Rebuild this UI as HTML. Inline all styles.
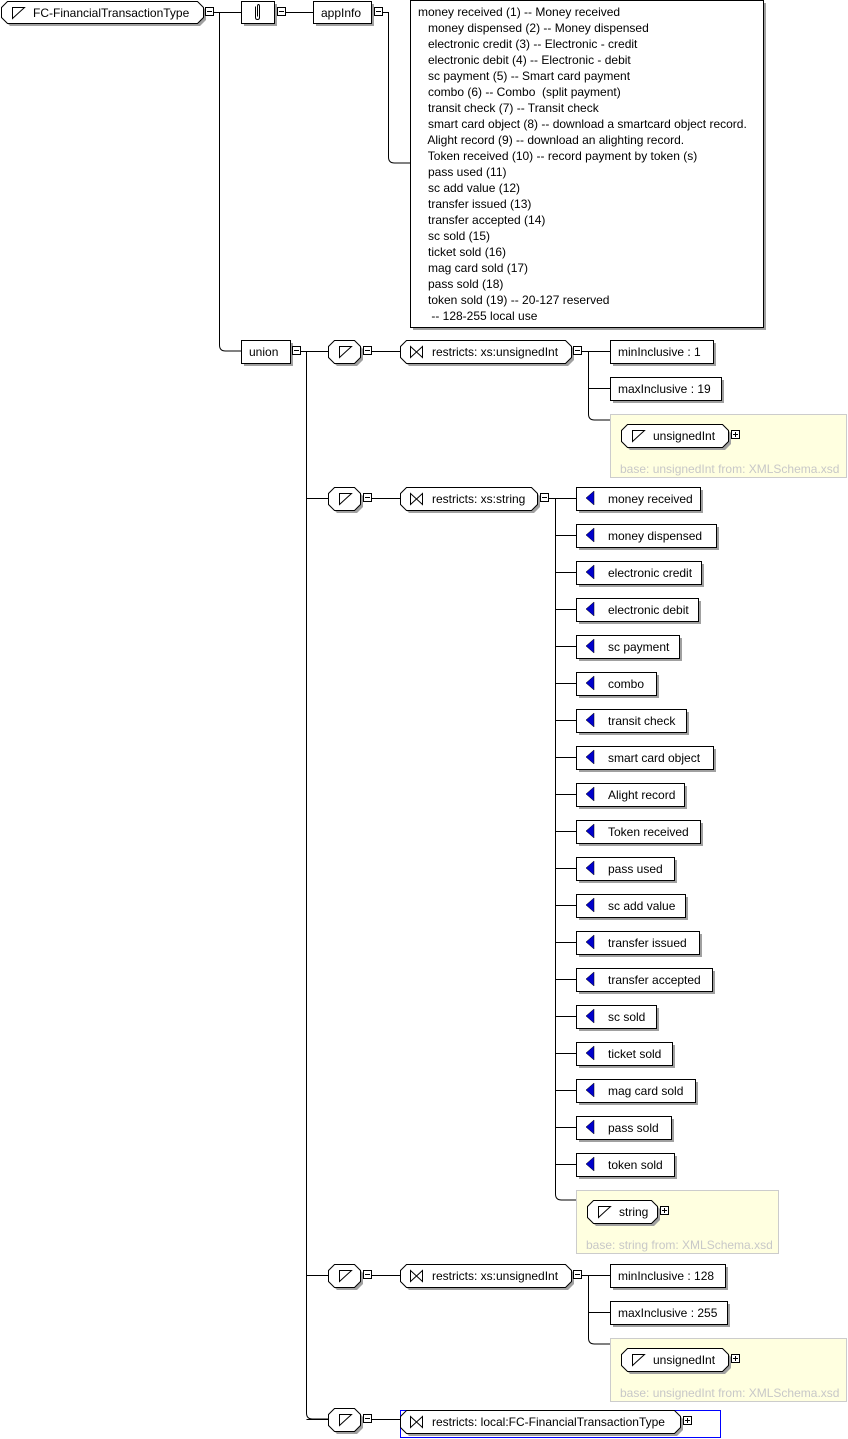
<!DOCTYPE html>
<html><head><meta charset="utf-8"><style>
html,body{margin:0;padding:0;background:#fff;}
svg{display:block;font-family:"Liberation Sans",sans-serif;font-size:12px;}
</style></head><body>
<svg id="s" width="848" height="1439" xmlns="http://www.w3.org/2000/svg"></svg>
<script>
const s=document.getElementById('s');let h='';
function line(d){h+=`<path d="${d}" fill="none" stroke="#000" stroke-width="1"/>`;}
function rect(x,y,w,ht,t,tx){h+=`<rect x="${x+3}" y="${y+3}" width="${w}" height="${ht}" fill="#a0a0a0"/><rect x="${x+.5}" y="${y+.5}" width="${w}" height="${ht}" fill="#fff" stroke="#000"/>`;if(t)h+=`<text x="${x+(tx||8)}" y="${y+16}">${t}</text>`;}
function hexp(x,y,w,ht){const c=6;return `${x+c},${y} ${x+w-c},${y} ${x+w},${y+c} ${x+w},${y+ht-c} ${x+w-c},${y+ht} ${x+c},${y+ht} ${x},${y+ht-c} ${x},${y+c}`;}
function hex(x,y,w,ht,t,icon){h+=`<polygon points="${hexp(x+3,y+3,w,ht)}" fill="#a0a0a0"/><polygon points="${hexp(x+.5,y+.5,w,ht)}" fill="#fff" stroke="#000"/>`;
 if(icon=='s'){h+=`<path d="M${x+11.5},${y+6.5}h12l-12,11z" fill="none" stroke="#000"/>`;}
 if(icon=='r'){h+=`<path d="M${x+10.5},${y+6.5}v11l12,-11v11z" fill="none" stroke="#000"/>`;}
 if(t)h+=`<text x="${x+32}" y="${y+16}">${t}</text>`;}
function pm(x,y,plus){h+=`<rect x="${x+.5}" y="${y-4.5}" width="8" height="8" fill="#fff" stroke="#000"/><path d="M${x+2},${y}h5"/>`;h+=`<path d="M${x+2},${y-.5}h5${plus?`M${x+4.5},${y-3}v5`:''}" stroke="#000"/>`;}
// root
hex(1,1,202,22,'FC-FinancialTransactionType','s');pm(205,12);
line('M214,12.5H241');
rect(241,1,33,22);h+=`<path d="M255.5,6.5v11q0,2 2,2t2,-2v-11q0,-2-1,-2t-1,2v10" fill="none" stroke="#000"/>`;pm(277,12);
line('M286,12.5H313');
rect(313,1,58,22,'appInfo');pm(374,12);
line('M383,12.5H388.5V157q0,6 6,6H410');
rect(410,0,353,327);
const doc=['money received (1) -- Money received','   money dispensed (2) -- Money dispensed','   electronic credit (3) -- Electronic - credit','   electronic debit (4) -- Electronic - debit','   sc payment (5) -- Smart card payment','   combo (6) -- Combo  (split payment)','   transit check (7) -- Transit check','   smart card object (8) -- download a smartcard object record.','   Alight record (9) -- download an alighting record.','   Token received (10) -- record payment by token (s)','   pass used (11)','   sc add value (12)','   transfer issued (13)','   transfer accepted (14)','   sc sold (15)','   ticket sold (16)','   mag card sold (17)','   pass sold (18)','   token sold (19) -- 20-127 reserved','    -- 128-255 local use'];
doc.forEach((t,i)=>{h+=`<text x="418" y="${16+i*16}" xml:space="preserve">${t}</text>`;});
line('M219.5,12.5V345q0,6 6,6H241');
rect(241,340,49,23,'union');pm(292,351);
line('M301,351.5H328');line('M306.5,351.5V1413q0,6 6,6H328');
function choice(y){hex(328,y-11,32,23,'','s');pm(363,y);line(`M372,${y+.5}H400`);line(`M306.5,${y+.5}H328`);}
function yellow(x,y,w,t,hw){h+=`<rect x="${x+.5}" y="${y+.5}" width="${w}" height="63" fill="#ffffe0" stroke="#ccc"/>`;hex(x+11,y+10,hw,23,t,'s');pm(x+11+hw+3,y+21,1);h+=`<text x="${x+10}" y="${y+59}" fill="#c8c8c8">base: ${t} from: XMLSchema.xsd</text>`;}
function uint(y,a,b,wa,wb){choice(y);hex(400,y-11,171,23,'restricts: xs:unsignedInt','r');pm(573,y);line(`M582,${y+.5}H610`);
 rect(610,y-11,103+wa,23,'minInclusive : '+a);line(`M588.5,${y}V${y+63}q0,6 6,6H610`);line(`M588.5,${y+37.5}H610`);
 rect(610,y+26,103+wb,23,'maxInclusive : '+b);yellow(610,y+63,236,'unsignedInt',107);}
uint(351,'1','19',0,8);uint(1275,'128','255',12,14);
choice(498);hex(400,487,137,23,'restricts: xs:string','r');pm(540,498);line('M549,498.5H576');
const en=[['money received',124],['money dispensed',140],['electronic credit',125],['electronic debit',122],['sc payment',103],['combo',80],['transit check',110],['smart card object',137],['Alight record',108],['Token received',124],['pass used',98],['sc add value',109],['transfer issued',123],['transfer accepted',136],['sc sold',80],['ticket sold',96],['mag card sold',119],['pass sold',95],['token sold',98]];
en.forEach((e,i)=>{const y=498+i*37;rect(576,y-11,e[1],23,e[0],32);h+=`<path d="M586,${y}l8,-7v14z" fill="#0000cc" stroke="#000" stroke-width=".5"/>`;line(`M555.5,${y+.5}H576`);});
line('M555.5,498V1194q0,6 6,6H576');
yellow(576,1190,202,'string',70);
choice(1419);h+=`<rect x="400.5" y="1410.5" width="320" height="27" fill="#fff" stroke="#00f"/>`;hex(400,1410,280,23,'restricts: local:FC-FinancialTransactionType','r');pm(683,1421,1);
s.innerHTML=h;
</script>
</body></html>
